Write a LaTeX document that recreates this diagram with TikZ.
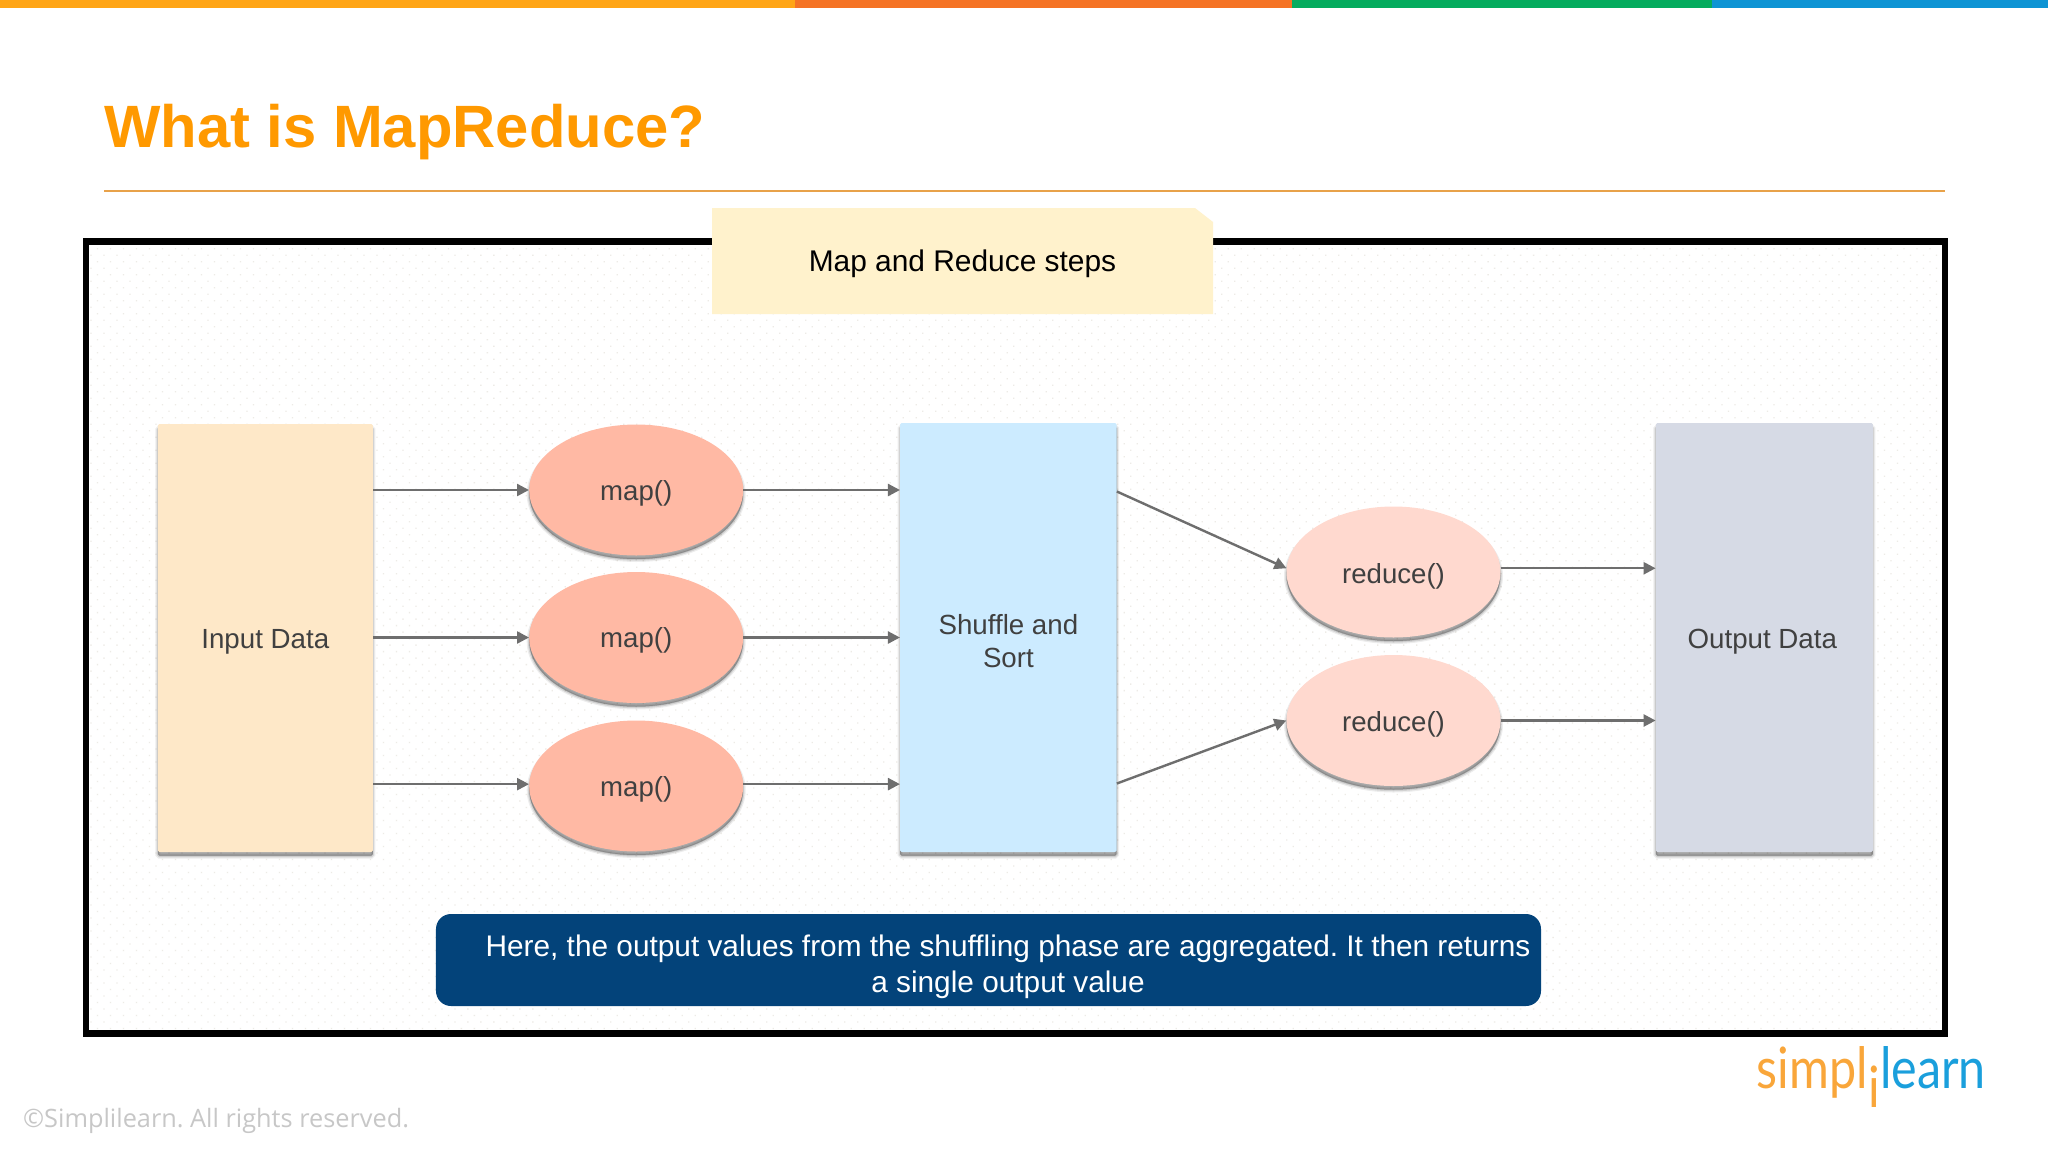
\documentclass[tikz,border=0pt]{standalone}
\usepackage{fontspec}
\setmainfont{Liberation Sans}
\newfontfamily\osans{Open Sans}
\newfontfamily\lato[FakeStretch=0.85]{Lato}
\usetikzlibrary{arrows.meta,shapes.geometric,shadows,patterns.meta,calc}
\definecolor{barA}{HTML}{FFA516}
\definecolor{barB}{HTML}{F57325}
\definecolor{barC}{HTML}{05AC5E}
\definecolor{barD}{HTML}{0E94D4}
\definecolor{titleC}{HTML}{FF9900}
\definecolor{ruleC}{HTML}{E8A24A}
\definecolor{inC}{HTML}{FEE8C8}
\definecolor{shC}{HTML}{CCEBFF}
\definecolor{outC}{HTML}{D6DAE5}
\definecolor{mapC}{HTML}{FFB9A4}
\definecolor{redC}{HTML}{FFD9CF}
\definecolor{noteC}{HTML}{FFF2CC}
\definecolor{navy}{HTML}{03437A}
\definecolor{lineC}{HTML}{6E6E6E}
\definecolor{txtC}{HTML}{404040}
\definecolor{logoO}{HTML}{F9A63A}
\definecolor{logoB}{HTML}{1A9FDC}
\definecolor{dotC}{HTML}{EDEBE6}
\tikzset{
  softshadow/.style={
    general shadow={fill=black,draw=black,line width=5bp,opacity=.07,shadow xshift=0bp,shadow yshift=-4bp},
    general shadow={fill=black,draw=black,line width=2.5bp,opacity=.11,shadow xshift=0bp,shadow yshift=-4bp},
    general shadow={fill=black,opacity=.2,shadow xshift=0bp,shadow yshift=-3.5bp}},
  blockbox/.style={rectangle,rounded corners=1.5bp,inner sep=0pt,softshadow,text=txtC,align=center,
    font=\fontsize{27.7bp}{33bp}\selectfont},
  oval/.style={ellipse,inner sep=0pt,minimum width=214bp,minimum height=131bp,softshadow,text=txtC,
    font=\fontsize{27.6bp}{33bp}\selectfont,text height=20bp,text depth=0bp},
  flow/.style={draw=lineC,line width=2.4bp,-{Triangle[length=12bp,width=12bp]}},
}
\begin{document}
\frenchspacing
\begin{tikzpicture}[x=1bp,y=-1bp]
\useasboundingbox (0,0) rectangle (2048,1152);
\fill[white] (0,0) rectangle (2048,1152);
% top bar
\fill[barA] (0,0) rectangle (795,7.5);
\fill[barB] (795,0) rectangle (1292,7.5);
\fill[barC] (1292,0) rectangle (1712,7.5);
\fill[barD] (1712,0) rectangle (2048,7.5);
% title
\node[anchor=base west,inner sep=0pt,text=titleC,font=\fontsize{59.75bp}{70bp}\selectfont\bfseries] (title) at (104,147) {What is MapReduce?};
\draw[ruleC,line width=1.6bp] (104,190.7) -- (1945,190.7);
% frame
\fill[white] (86,241) rectangle (1945,1034);
\fill[pattern={Dots[distance=9.19bp,angle=45,radius=.9bp]},pattern color=dotC] (90,246) rectangle (1941,1030);
\draw[black,line width=6.5bp] (86,241.5) rectangle (1945,1033.5);
% note
\fill[noteC] (712,208) -- (1195,208) -- (1213,222) -- (1213,314) -- (712,314) -- cycle;
\node[anchor=base,inner sep=0pt,text=black,font=\fontsize{29.9bp}{36bp}\selectfont] (notetext) at (962.5,271) {Map and Reduce steps};
% blocks
\node[blockbox,fill=inC,minimum width=215bp,minimum height=428bp,text height=21bp,text depth=0bp] (input) at (265.3,638) {Input Data};
\node[blockbox,fill=shC,minimum width=216.5bp,minimum height=429bp] (shuffle) at (1008.4,637.5) {\rule{0pt}{27bp}Shuffle and\\Sort};
\node[blockbox,fill=outC,minimum width=217bp,minimum height=429bp,text height=21.5bp,text depth=0bp] (output) at (1764.3,637.5) {\kern-4bp Output Data};
% ovals
\node[oval,fill=mapC] (m1) at (636.2,490) {map()};
\node[oval,fill=mapC] (m2) at (636.2,637.5) {map()};
\node[oval,fill=mapC] (m3) at (636.2,786) {map()};
\node[oval,fill=redC,text height=23.5bp] (r1) at (1393.5,572) {reduce()};
\node[oval,fill=redC,text height=21.5bp] (r2) at (1393.5,720.5) {reduce()};
% connectors
\draw[flow] (input.east |- m1.west) -- (m1.west);
\draw[flow] (m1.east) -- (shuffle.west |- m1.east);
\draw[flow] (input.east |- m2.west) -- (m2.west);
\draw[flow] (m2.east) -- (shuffle.west |- m2.east);
\draw[flow] (input.east |- m3.179) -- (m3.179);
\draw[flow] (m3.1.5) -- (shuffle.west |- m3.1.5);
\coordinate (sa) at ($(shuffle.east)+(0,-146)$);
\coordinate (sb) at ($(shuffle.east)+(0,146)$);
\draw[flow] (sa) -- (r1.178);
\draw[flow] (sb) -- (r2.west);
\draw[flow] (r1.2) -- (output.west |- r1.2);
\draw[flow] (r2.east) -- (output.west |- r2.east);
% caption
\node[rectangle,rounded corners=15bp,fill=navy,text=white,inner sep=0pt,minimum width=1105bp,minimum height=92bp,align=center,
  font=\fontsize{29.8bp}{36bp}\selectfont] (caption) at (988.5,960)
  {\rule{0pt}{35bp}\hspace*{39bp}Here, the output values from the shuffling phase are aggregated. It then returns\\\hspace*{39bp}a single output value};
% footer
\node[anchor=base west,inner sep=0pt,text=black!22,font=\osans\fontsize{25.3bp}{30bp}\selectfont] (copy) at (23,1127) {©Simplilearn. All rights reserved.};
% logo
\node[anchor=base east,inner sep=0pt,text=logoO,font=\lato\fontsize{57bp}{60bp}\selectfont] (logoa) at (1868,1088) {simpl};
\node[anchor=base,inner sep=0pt,text=logoO,font=\lato\fontsize{57bp}{60bp}\selectfont] (logoi) at (1874,1107) {i};
\node[anchor=base west,inner sep=0pt,text=logoB,font=\lato\fontsize{57bp}{60bp}\selectfont] (logob) at (1880,1088) {learn};
\end{tikzpicture}
\end{document}
